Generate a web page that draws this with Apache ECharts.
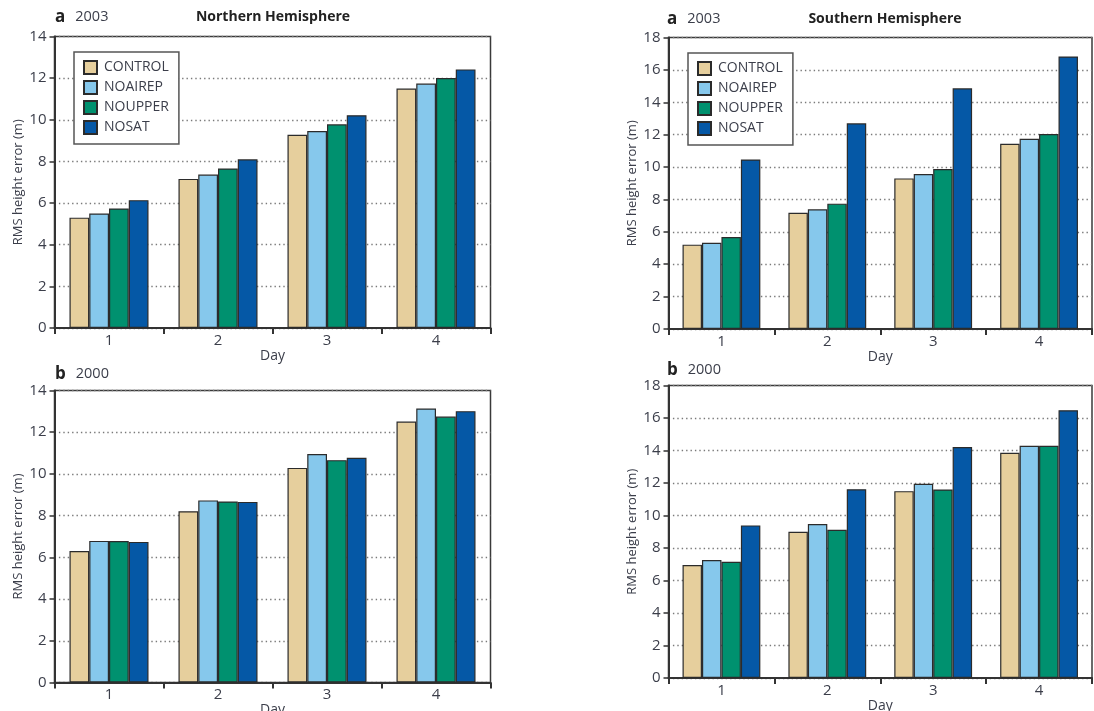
<!DOCTYPE html>
<html>
<head>
<meta charset="utf-8">
<title>RMS height error by forecast day</title>
<script src="https://cdn.jsdelivr.net/npm/echarts@6/dist/echarts.min.js"></script>
<style>
  html, body { margin: 0; padding: 0; background: #fff; }
  #chart { width: 1094px; height: 711px; }
</style>
</head>
<body>
<div id="chart"></div>
<script>
// Forecast day categories and experiment names
const days = ['1', '2', '3', '4'];
const experiments = ['CONTROL', 'NOAIREP', 'NOUPPER', 'NOSAT'];

// Northern Hemisphere, 2003 (RMS height error, m)
const nh2003Control = [5.30, 7.16, 9.28, 11.50];
const nh2003Noairep = [5.50, 7.37, 9.46, 11.74];
const nh2003Noupper = [5.74, 7.66, 9.78, 12.01];
const nh2003Nosat   = [6.14, 8.10, 10.22, 12.42];

// Northern Hemisphere, 2000
const nh2000Control = [6.30, 8.21, 10.29, 12.51];
const nh2000Noairep = [6.79, 8.73, 10.95, 13.14];
const nh2000Noupper = [6.78, 8.68, 10.66, 12.75];
const nh2000Nosat   = [6.74, 8.66, 10.77, 13.01];

// Southern Hemisphere, 2003
const sh2003Control = [5.21, 7.18, 9.30, 11.44];
const sh2003Noairep = [5.33, 7.39, 9.57, 11.75];
const sh2003Noupper = [5.68, 7.74, 9.88, 12.04];
const sh2003Nosat   = [10.47, 12.70, 14.86, 16.83];

// Southern Hemisphere, 2000
const sh2000Control = [6.95, 9.00, 11.50, 13.86];
const sh2000Noairep = [7.26, 9.47, 11.95, 14.29];
const sh2000Noupper = [7.15, 9.12, 11.60, 14.29];
const sh2000Nosat   = [9.39, 11.62, 14.21, 16.48];

// Y-axis ranges (tick step 2)
const nhYMax = 14;
const shYMax = 18;
const yStep = 2;

const colors = ['#e6cf9d', '#86c8ec', '#00916f', '#0558a6'];
const textColor = '#3b3e4a';
const fontFamily = '"Open Sans", "DejaVu Sans", sans-serif';

const panels = [
  { grid: { left: 54.5, top: 36.5, width: 436, height: 291.5 }, max: nhYMax,
    data: [nh2003Control, nh2003Noairep, nh2003Noupper, nh2003Nosat], gap: '27.5%' },
  { grid: { left: 54.5, top: 390.5, width: 436, height: 292 }, max: nhYMax,
    data: [nh2000Control, nh2000Noairep, nh2000Noupper, nh2000Nosat], gap: '27.5%' },
  { grid: { left: 668.5, top: 37.5, width: 423.5, height: 291.5 }, max: shYMax,
    data: [sh2003Control, sh2003Noairep, sh2003Noupper, sh2003Nosat], gap: '26.5%' },
  { grid: { left: 668.5, top: 385.5, width: 423.5, height: 292.5 }, max: shYMax,
    data: [sh2000Control, sh2000Noairep, sh2000Noupper, sh2000Nosat], gap: '26.5%' }
];

const grids = [], xAxes = [], yAxes = [], series = [];
panels.forEach((p, i) => {
  grids.push(Object.assign({
    show: true, borderColor: '#3a3a3a', borderWidth: 1.5, backgroundColor: 'transparent',
    containLabel: false, outerBoundsMode: 'none'
  }, p.grid));
  xAxes.push({
    type: 'category', gridIndex: i, data: days,
    name: 'Day', nameLocation: 'middle', nameGap: 19,
    nameTextStyle: { color: textColor, fontSize: 14, fontFamily },
    axisLine: { lineStyle: { color: '#333', width: 2 } },
    axisTick: { show: true, inside: false, length: 6, lineStyle: { color: '#333', width: 2 } },
    axisLabel: { color: textColor, fontSize: 15, margin: 5, fontFamily },
    splitLine: { show: false }
  });
  yAxes.push({
    type: 'value', gridIndex: i, min: 0, max: p.max, interval: yStep,
    name: 'RMS height error (m)', nameLocation: 'middle', nameGap: 30,
    nameTextStyle: { color: textColor, fontSize: 13, fontFamily },
    axisLine: { show: true, lineStyle: { color: '#333', width: 2 } },
    axisTick: { show: true, inside: false, length: 5, lineStyle: { color: '#333', width: 1.5 } },
    axisLabel: { color: textColor, fontSize: 15, margin: 8, fontFamily },
    splitLine: { show: true, lineStyle: { color: '#7a7a7a', width: 1.4, type: [1.4, 3] } }
  });
  p.data.forEach((vals, k) => {
    series.push({
      type: 'bar', name: experiments[k], xAxisIndex: i, yAxisIndex: i,
      data: vals, barGap: '0%', barCategoryGap: p.gap,
      itemStyle: { color: colors[k], borderColor: '#2b2b2b', borderWidth: 1.2 },
      emphasis: { disabled: true }, animation: false
    });
  });
});

const legendBase = {
  data: experiments, orient: 'vertical', icon: 'rect',
  itemWidth: 13, itemHeight: 13, itemGap: 5,
  padding: [8, 10, 9, 9], backgroundColor: '#fff',
  borderColor: '#555', borderWidth: 1.5,
  textStyle: { color: textColor, fontSize: 14, fontFamily, padding: [0, 0, 0, 2] },
  selectedMode: false
};

const titleText = (x, y, letter, year) => ({
  type: 'text', x, y,
  style: {
    text: '{l|' + letter + '}   {y|' + year + '}',
    rich: {
      l: { fontSize: 17, fontWeight: 'bold', fill: '#222', fontFamily },
      y: { fontSize: 14.5, fill: textColor, fontFamily }
    },
    textVerticalAlign: 'middle'
  }
});
const headText = (x, y, text) => ({
  type: 'text', x, y,
  style: { text, fontSize: 14, fontWeight: 'bold', fill: '#222', fontFamily, textAlign: 'center', textVerticalAlign: 'middle' }
});

const chart = echarts.init(document.getElementById('chart'), null, { renderer: 'canvas' });
chart.setOption({
  backgroundColor: '#fff',
  animation: false,
  grid: grids,
  xAxis: xAxes,
  yAxis: yAxes,
  series,
  legend: [
    Object.assign({ left: 74, top: 52 }, legendBase),
    Object.assign({ left: 688, top: 53 }, legendBase)
  ],
  graphic: [
    titleText(55, 17, 'a', '2003'),
    headText(273, 17, 'Northern Hemisphere'),
    titleText(55, 374, 'b', '2000'),
    titleText(667, 19, 'a', '2003'),
    headText(885, 19, 'Southern Hemisphere'),
    titleText(667, 370, 'b', '2000')
  ]
});
</script>
</body>
</html>
